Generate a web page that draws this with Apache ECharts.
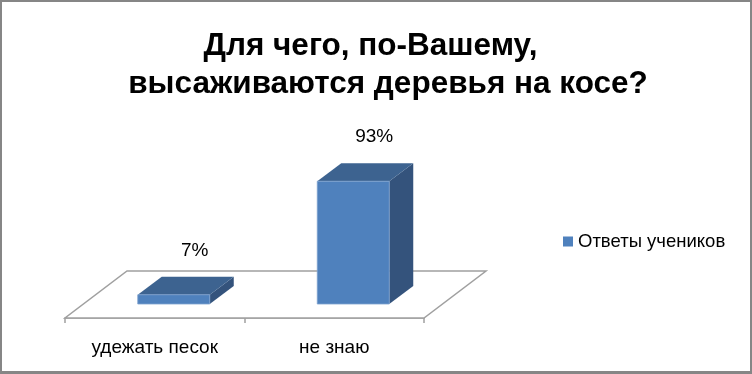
<!DOCTYPE html>
<html>
<head>
<meta charset="utf-8">
<script src="https://cdn.jsdelivr.net/npm/echarts@6/dist/echarts.min.js"></script>
<style>
  html, body { margin: 0; padding: 0; background: #fff; }
  #chart { width: 752px; height: 374px; }
</style>
</head>
<body>
<div id="chart"></div>
<script>
// Survey answers (percent of students)
// Title lines; the first keeps its trailing wrap spaces, as the text box wrapped it
const titleLines = ['Для чего, по-Вашему,    ', 'высаживаются деревья на косе?'];
const seriesName = 'Ответы учеников';
const categories = ['удежать песок', 'не знаю'];
const values = [7, 93];
const valueLabels = ['7%', '93%'];

const FONT = '"Liberation Sans", Arial, sans-serif';

// 3D look: floor depth and bar depth offsets (pixels)
const FLOOR_DX = 62, FLOOR_DY = -47;
const BAR_SHIFT_X = 19, BAR_SHIFT_Y = -14;
const BAR_DX = 24, BAR_DY = -18;
const BAR_HALF = 36;

const chart = echarts.init(document.getElementById('chart'), null, { renderer: 'canvas' });

function renderFloor(params, api) {
  const cs = params.coordSys;
  const x0 = cs.x, x1 = cs.x + cs.width, y = cs.y + cs.height;
  return {
    type: 'polygon',
    shape: { points: [[x0, y], [x1, y], [x1 + FLOOR_DX, y + FLOOR_DY], [x0 + FLOOR_DX, y + FLOOR_DY]] },
    style: { fill: '#ffffff', stroke: '#a0a0a0', lineWidth: 1.5 },
    silent: true
  };
}

function renderBar(params, api) {
  const idx = api.value(0);
  const val = api.value(1);
  const base = api.coord([idx, 0]);
  const top = api.coord([idx, val]);
  const fx = base[0] + BAR_SHIFT_X;
  const by = base[1] + BAR_SHIFT_Y;
  const ty = top[1] + BAR_SHIFT_Y;
  const x0 = fx - BAR_HALF, x1 = fx + BAR_HALF;
  return {
    type: 'group',
    children: [
      {
        type: 'polygon',
        shape: { points: [[x1, ty], [x1 + BAR_DX, ty + BAR_DY], [x1 + BAR_DX, by + BAR_DY], [x1, by]] },
        style: { fill: '#34537c' }
      },
      {
        type: 'polygon',
        shape: { points: [[x0, ty], [x1, ty], [x1 + BAR_DX, ty + BAR_DY], [x0 + BAR_DX, ty + BAR_DY]] },
        style: { fill: '#3d6390' }
      },
      {
        type: 'rect',
        shape: { x: x0, y: ty, width: x1 - x0, height: by - ty },
        style: { fill: '#4f81bd', stroke: '#7ea2cf', lineWidth: 0.8 }
      },
      {
        type: 'text',
        x: base[0] + 40,
        y: ty - 44,
        style: {
          text: valueLabels[params.dataIndex],
          fill: '#000',
          font: '19px ' + FONT,
          align: 'center',
          verticalAlign: 'middle'
        }
      }
    ]
  };
}

chart.setOption({
  animation: false,
  backgroundColor: 'transparent',
  graphic: [
    { type: 'rect', z: -10, shape: { x: 0, y: 0, width: 752, height: 374 }, style: { fill: '#868686' }, silent: true },
    { type: 'rect', z: -9, shape: { x: 2, y: 2, width: 748, height: 369 }, style: { fill: '#ffffff' }, silent: true }
  ],
  title: {
    text: titleLines.join('\n'),
    left: 388,
    top: 27,
    textAlign: 'center',
    padding: 0,
    textStyle: { fontFamily: FONT, fontSize: 31.5, fontWeight: 'bold', lineHeight: 38, color: '#000' }
  },
  legend: {
    data: [seriesName],
    left: 563,
    top: 232,
    padding: 0,
    icon: 'rect',
    itemWidth: 10,
    itemHeight: 10,
    itemGap: 5,
    textStyle: { fontFamily: FONT, fontSize: 18.5, color: '#000' }
  },
  grid: { left: 65, right: 328, top: 186, bottom: 56, containLabel: false },
  xAxis: {
    type: 'category',
    data: categories,
    boundaryGap: true,
    axisLine: { show: true, lineStyle: { color: '#a0a0a0', width: 1.5 } },
    axisTick: { show: true, length: 5, interval: 0, lineStyle: { color: '#a0a0a0', width: 1.5 } },
    axisLabel: { margin: 20, fontFamily: FONT, fontSize: 19, color: '#000', interval: 0 },
    splitLine: { show: false }
  },
  yAxis: {
    type: 'value',
    min: 0,
    max: 100,
    show: false
  },
  series: [
    {
      type: 'custom',
      name: 'floor',
      silent: true,
      z: 1,
      renderItem: renderFloor,
      data: [[0, 0]]
    },
    {
      type: 'custom',
      name: seriesName,
      z: 3,
      itemStyle: { color: '#4f81bd' },
      renderItem: renderBar,
      encode: { x: 0, y: 1 },
      data: values.map((v, i) => [i, v])
    }
  ]
});
</script>
</body>
</html>
